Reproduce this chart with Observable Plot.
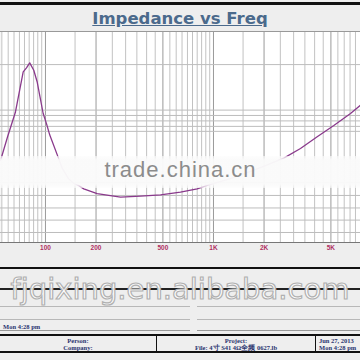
<!DOCTYPE html>
<html>
<head>
<meta charset="utf-8">
<script src="https://cdn.jsdelivr.net/npm/d3@7"></script>
<script src="https://cdn.jsdelivr.net/npm/@observablehq/plot@0.6"></script>
<style>
  html, body { margin: 0; padding: 0; background: #eeeeee; }
  #wrap { position: relative; width: 360px; height: 360px; overflow: hidden; background: #eeeeee; }
  .abs { position: absolute; }
  #title { left: 0; top: 9px; width: 360px; text-align: center; font: bold 16.5px "DejaVu Sans", sans-serif; line-height: 19px; color: #4b6a8c; text-decoration: underline; }
  #chart { left: 0; top: 31px; }
  #chart svg { background: transparent; }
  .small { font-family: "Liberation Serif", serif; font-weight: bold; font-size: 6.5px; color: #2a3470; line-height: 7px; white-space: nowrap; }
</style>
</head>
<body>
<div id="wrap">
  <div class="abs" style="left:0;top:2px;width:360px;height:3px;background:#111"></div>
  <div id="title" class="abs">Impedance vs Freq</div>
  <div id="chart" class="abs"></div>
  <div class="abs" style="left:0;top:156px;width:360px;height:32px;background:linear-gradient(to bottom, rgba(252,252,252,0.6), rgba(250,250,250,0.97) 12%, rgba(250,250,250,0.97) 88%, rgba(252,252,252,0.6))"></div>
  <div class="abs" id="wm1" style="left:0;top:159px;width:361px;text-align:center;font:22px 'Liberation Sans', sans-serif;line-height:22px;letter-spacing:1px;color:#8c8c8c"></div>

  <div class="abs" style="left:0;top:267px;width:360px;height:2px;background:#111"></div>
  <div class="abs" style="left:0;top:288px;width:360px;height:2px;background:#222"></div>
  <div class="abs" style="left:0;top:306px;width:190px;height:1px;background:#b8b8b8"></div>
  <div class="abs" style="left:197px;top:306px;width:163px;height:1px;background:#b8b8b8"></div>
  <div class="abs" style="left:0;top:319px;width:190px;height:1px;background:#b8b8b8"></div>
  <div class="abs" style="left:197px;top:319px;width:163px;height:1px;background:#b8b8b8"></div>
  <div class="abs small" id="stamp" style="left:3px;top:323px;"></div>
  <div class="abs" style="left:0;top:330px;width:190px;height:1px;background:#999"></div>
  <div class="abs" style="left:197px;top:330px;width:163px;height:1px;background:#999"></div>
  <div class="abs" style="left:0;top:334px;width:360px;height:19px;border-top:2px solid #111;border-bottom:2px solid #111;box-sizing:border-box"></div>
  <div class="abs" style="left:156px;top:334px;width:1px;height:19px;background:#111"></div>
  <div class="abs" style="left:315px;top:334px;width:1px;height:19px;background:#111"></div>
  <div class="abs small" id="cell1" style="left:0;top:337px;width:156px;text-align:center"></div>
  <div class="abs small" id="cell2" style="left:157px;top:337px;width:158px;text-align:center"></div>
  <div class="abs small" id="cell3" style="left:319px;top:337px;"></div>
  <div class="abs" id="wm2" style="left:0;top:274px;width:360px;text-align:center;font:29px 'DejaVu Sans', sans-serif;line-height:30px;letter-spacing:0px;color:rgba(255,255,255,0.93);-webkit-text-stroke:1.2px #b0b0b0"></div>
</div>
<script>
// Impedance curve (Hz, ohms)
const freq = [54, 59.5, 66.3, 73.7, 77.1, 80.6, 85.2, 89.2, 96.9, 101.4, 106.1, 120, 126, 137, 147, 158, 169, 203, 255, 280, 368, 484, 636, 800, 938, 1262, 1661, 2040, 2621, 3295, 4143, 5202, 6540, 7500];
const ohms = [7.5, 11.0, 16.4, 31.3, 33.4, 36.2, 32.1, 26.7, 16.0, 13.6, 11.3, 7.7, 6.6, 5.6, 5.2, 5.0, 4.75, 4.39, 4.22, 4.15, 4.22, 4.31, 4.5, 4.75, 5.07, 5.6, 6.3, 6.9, 7.8, 9.1, 11.0, 13.2, 16.0, 18.3];

// Axis ticks and labels
const tickValues = [100, 200, 500, 1000, 2000, 5000];
const tickLabels = ["100", "200", "500", "1K", "2K", "5K"];

// Grid lines
const xGridMinor = [55, 60, 65, 70, 75, 80, 85, 90, 95, 150, 250, 300, 350, 400, 450, 550, 600, 650, 700, 750, 800, 850, 900, 950, 1500, 2500, 3000, 3500, 4000, 4500, 5500, 6000, 6500, 7000];
const xGridMajor = [100, 200, 500, 1000, 2000, 5000];
const yGrid = [35.2, 16.9, 15.5, 14.2, 13.0, 12.0, 5.26, 4.27, 3.49, 2.87, 2.35];

// Texts
const titleText = "Impedance vs Freq";
const watermark1 = "trade.china.cn";
const watermark2 = "fjqixing.en.alibaba.com";
const stampText = "Mon 4:28 pm";
const cell1 = ["Person:", "Company:"];
const cell2 = ["Project:", "File: 4寸 S41   4Ω全频  0627.lb"];
const cell3 = ["Jun 27, 2013", "Mon 4:28 pm"];

const xDomain = [54, 7500];
const yDomain = [2, 60];

const data = freq.map((f, i) => ({f, z: ohms[i]}));

const chart = Plot.plot({
  width: 360,
  height: 226,
  marginTop: 0,
  marginBottom: 15,
  marginLeft: 0,
  marginRight: 0,
  style: {background: "transparent", fontFamily: "'Liberation Sans', Arial, sans-serif", fontSize: "6.5px", fontWeight: "bold"},
  x: {type: "log", domain: xDomain},
  y: {type: "log", domain: yDomain, axis: null},
  marks: [
    Plot.frame({fill: "white", stroke: null}),
    Plot.ruleX(xGridMinor, {stroke: "#c2c2c2", strokeWidth: 1}),
    Plot.ruleX(xGridMajor, {stroke: "#9a9a9a", strokeWidth: 1}),
    Plot.ruleY(yGrid, {stroke: "#bdbdbd", strokeWidth: 1}),
    Plot.ruleY([yDomain[1]], {stroke: "#999", strokeWidth: 1}),
    Plot.ruleY([yDomain[0]], {stroke: "#777", strokeWidth: 1}),
    Plot.line(data, {x: "f", y: "z", stroke: "#8a3a8c", strokeWidth: 1.3}),
    Plot.axisX({ticks: tickValues, tickFormat: (d) => tickLabels[tickValues.indexOf(d)], tickSize: 0, tickPadding: 3, color: "#b03062", label: null})
  ]
});
document.getElementById("chart").appendChild(chart);

document.getElementById("title").textContent = titleText;
document.getElementById("wm1").textContent = watermark1;
document.getElementById("wm2").textContent = watermark2;
document.getElementById("stamp").textContent = stampText;
document.getElementById("cell1").innerHTML = cell1.join("<br>");
document.getElementById("cell2").innerHTML = cell2.join("<br>");
document.getElementById("cell3").innerHTML = cell3.join("<br>");
</script>
</body>
</html>
